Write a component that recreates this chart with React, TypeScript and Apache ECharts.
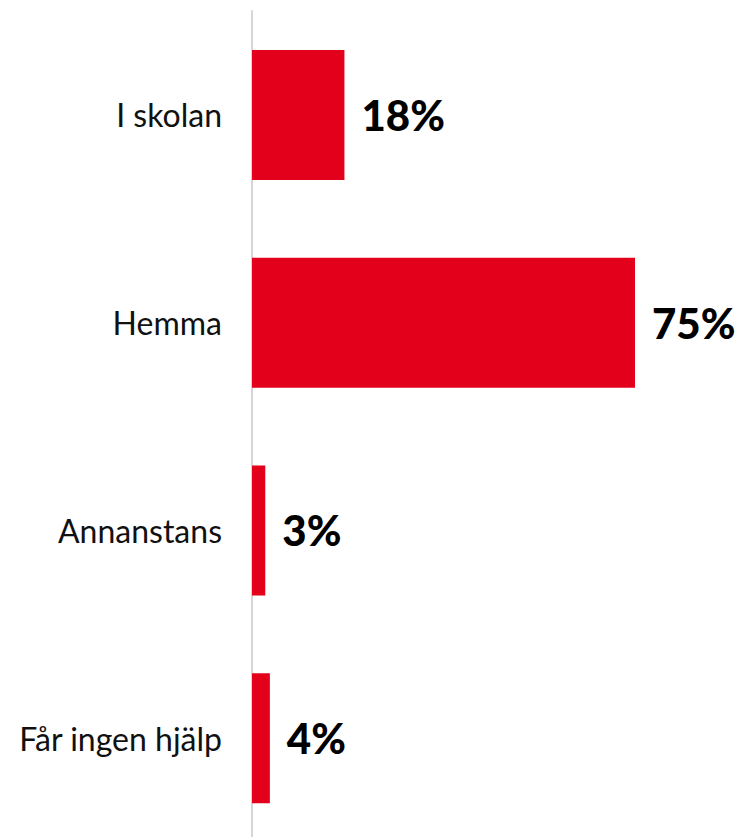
import React, { useEffect, useRef } from "react";
import * as echarts from "echarts";

const categories = ["I skolan", "Hemma", "Annanstans", "Får ingen hjälp"];
const values = [18.1, 75, 2.6, 3.5];
const labelTexts = ["18%", "75%", "3%", "4%"];

export default function App() {
  const ref = useRef<HTMLDivElement>(null);
  useEffect(() => {
    if (!ref.current) return;
    const chart = echarts.init(ref.current, null, { renderer: "svg" });
    chart.setOption({
      animation: false,
      grid: { left: 252, top: 11, height: 831, right: 107 },
      xAxis: {
        type: "value",
        min: 0,
        max: 75,
        show: false,
      },
      yAxis: {
        type: "category",
        data: categories,
        inverse: true,
        axisLine: { show: true, lineStyle: { color: "#d6d6d6", width: 2 } },
        axisTick: { show: false },
        axisLabel: {
          margin: 30,
          fontFamily: "Lato",
          fontSize: 32,
          color: "#111111",
        },
      },
      series: [
        {
          type: "bar",
          data: values,
          barWidth: 130,
          itemStyle: { color: "#e2001a" },
          label: {
            show: true,
            position: "right",
            distance: 17,
            formatter: (p: any) => labelTexts[p.dataIndex],
            fontFamily: "Lato",
            fontWeight: 900,
            fontSize: 42,
            color: "#000000",
          },
        },
      ],
    });
    return () => chart.dispose();
  }, []);
  return (
    <div
      ref={ref}
      style={{ position: "absolute", left: 0, top: 0, width: 742, height: 850 }}
    />
  );
}
